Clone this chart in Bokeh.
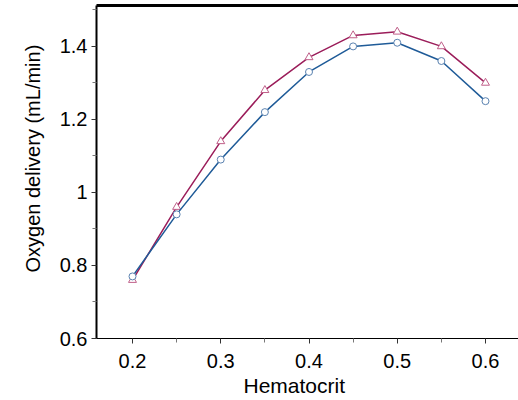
from bokeh.plotting import figure
from bokeh.models import Range1d, LinearAxis, FixedTicker, Title
from bokeh.embed import file_html
from bokeh.resources import INLINE

hematocrit = [0.2, 0.25, 0.3, 0.35, 0.4, 0.45, 0.5, 0.55, 0.6]
delivery_blue = [0.77, 0.94, 1.09, 1.22, 1.33, 1.40, 1.41, 1.36, 1.25]
delivery_red = [0.76, 0.96, 1.14, 1.28, 1.37, 1.43, 1.44, 1.40, 1.30]
x_ticks = [0.2, 0.3, 0.4, 0.5, 0.6]
y_ticks = [0.6, 0.8, 1.0, 1.2, 1.4]
y_tick_labels = {0.6: "0.6", 0.8: "0.8", 1.0: "1", 1.2: "1.2", 1.4: "1.4"}
x_label = "Hematocrit"
y_label = "Oxygen delivery (mL/min)"

FONT = "Liberation Sans"
BLUE = "#1f5b98"
RED = "#9b1d5a"

p = figure(width=518, height=400, output_backend="svg", toolbar_location=None,
           x_range=Range1d(0.1592, 0.6374), y_range=Range1d(0.6, 1.512),
           min_border_left=96, min_border_right=0, min_border_top=5, min_border_bottom=62)
p.outline_line_color = None
p.xgrid.visible = False
p.ygrid.visible = False

p.line(hematocrit, delivery_red, line_color=RED, line_width=1.5)
p.scatter(hematocrit, delivery_red, marker="triangle", size=8, fill_color="white",
          line_color="#c0608a", line_width=1)
p.line(hematocrit, delivery_blue, line_color=BLUE, line_width=1.5)
p.scatter(hematocrit, delivery_blue, marker="circle", size=7, fill_color="white",
          line_color="#5a82b0", line_width=1)

xa = p.xaxis[0]
xa.ticker = FixedTicker(ticks=x_ticks, minor_ticks=[0.25, 0.35, 0.45, 0.55])
ya = p.yaxis[0]
ya.ticker = FixedTicker(ticks=y_ticks, minor_ticks=[0.7, 0.9, 1.1, 1.3, 1.5])
ya.major_label_overrides = y_tick_labels

for ax in (xa, ya):
    ax.major_label_text_font = FONT
    ax.major_label_text_font_size = "20px"
    ax.major_label_text_color = "black"
    ax.major_tick_in = 0
    ax.major_tick_out = 5
    ax.minor_tick_in = 0
    ax.minor_tick_out = 4
    ax.major_tick_line_color = "#333333"
    ax.minor_tick_line_color = "#777777"
    ax.axis_line_color = "black"

ya.axis_line_width = 2
xa.axis_line_width = 1.2
xa.major_label_standoff = 10
ya.major_label_standoff = 4

xt = Title(text=x_label, align="left", offset=147, standoff=2,
           text_font=FONT, text_font_size="21px", text_font_style="normal",
           text_color="black")
p.add_layout(xt, "below")

yt = Title(text=y_label, align="left", offset=66, standoff=26,
           text_font=FONT, text_font_size="20px", text_font_style="normal",
           text_color="black")
p.add_layout(yt, "left")

top = LinearAxis(axis_line_width=3, axis_line_color="black",
                 major_tick_line_color=None, minor_tick_line_color=None,
                 major_tick_out=0, major_label_standoff=0,
                 major_label_text_font_size="1px", major_label_text_color=None)
top.ticker = FixedTicker(ticks=[])
p.add_layout(top, "above")

open("out.html", "w").write(file_html(p, INLINE))
